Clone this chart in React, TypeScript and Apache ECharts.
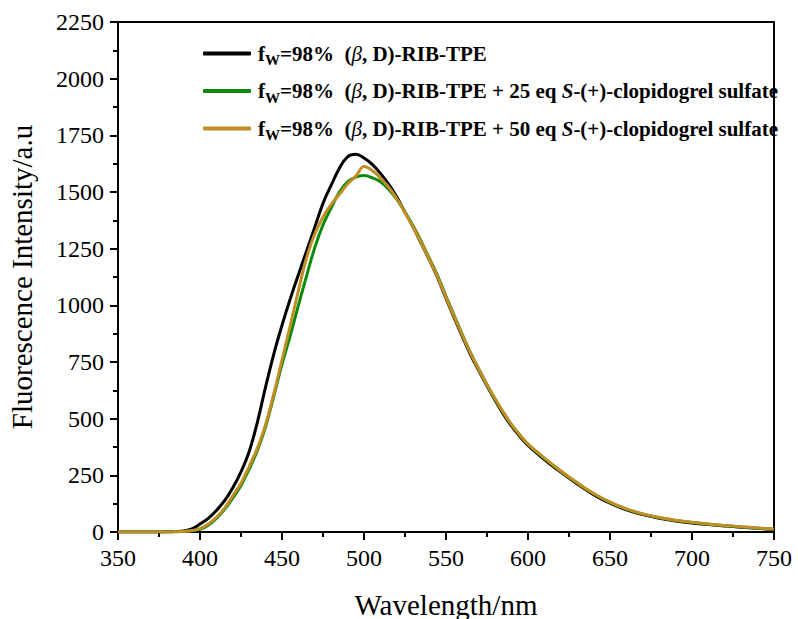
import React, { useEffect, useRef } from "react";
import * as echarts from "echarts";

const wavelengths = [
  350, 355, 360, 365, 370, 375, 380, 385, 390, 395, 400, 405, 410, 415, 420, 425, 430, 435, 440, 445,
  450, 455, 460, 465, 470, 475, 480, 485, 490, 495, 500, 505, 510, 515, 520, 525, 530, 535, 540, 545,
  550, 555, 560, 565, 570, 575, 580, 585, 590, 595, 600, 610, 620, 630, 640, 650, 660, 670, 680, 690,
  700, 710, 720, 730, 740, 750,
];

const blackValues = [
  0, 0, 0, 0, 0, 0, 1, 2, 5, 14, 35, 60, 95, 138, 195, 265, 355, 485, 640, 785,
  912, 1028, 1135, 1240, 1345, 1450, 1530, 1605, 1655, 1666, 1650, 1622, 1582, 1535, 1478, 1410, 1345, 1272, 1198, 1120,
  1030, 945, 862, 782, 712, 645, 580, 520, 467, 422, 382, 320, 264, 212, 165, 127, 98, 77, 61, 49,
  40, 33, 27, 21, 16, 11,
];

const greenValues = [
  0, 0, 0, 0, 0, 0, 0, 1, 2, 5, 12, 30, 60, 100, 150, 205, 278, 360, 465, 600,
  740, 865, 1000, 1130, 1255, 1355, 1430, 1500, 1545, 1566, 1573, 1563, 1545, 1512, 1467, 1412, 1350, 1280, 1205, 1128,
  1040, 955, 870, 790, 718, 650, 586, 527, 473, 428, 387, 325, 268, 216, 169, 131, 101, 79, 63, 51,
  42, 34, 28, 22, 17, 12,
];

const orangeValues = [
  0, 0, 0, 0, 0, 0, 0, 1, 3, 7, 15, 35, 65, 105, 160, 215, 290, 370, 475, 610,
  760, 910, 1065, 1210, 1315, 1390, 1445, 1490, 1535, 1570, 1612, 1595, 1562, 1522, 1470, 1410, 1345, 1275, 1200, 1122,
  1035, 950, 868, 788, 718, 650, 587, 528, 474, 429, 388, 326, 269, 217, 170, 132, 102, 80, 64, 52,
  43, 35, 29, 23, 18, 13,
];

const seriesNames = [
  "fW=98%  (β, D)-RIB-TPE",
  "fW=98%  (β, D)-RIB-TPE + 25 eq S-(+)-clopidogrel sulfate",
  "fW=98%  (β, D)-RIB-TPE + 50 eq S-(+)-clopidogrel sulfate",
];
const seriesColors = ["#000000", "#0a8a0a", "#c08e24"];
const legendRich = [
  "{bf|f}{sub|W}{b|=98%  (}{bi|β}{b|, D)-RIB-TPE}",
  "{bf|f}{sub|W}{b|=98%  (}{bi|β}{b|, D)-RIB-TPE + 25 eq }{si|S}{b|-(+)-clopidogrel sulfate}",
  "{bf|f}{sub|W}{b|=98%  (}{bi|β}{b|, D)-RIB-TPE + 50 eq }{si|S}{b|-(+)-clopidogrel sulfate}",
];

const xTicks = { min: 350, max: 750, interval: 50 };
const yTicks = { min: 0, max: 2250, interval: 250 };

const FONT = "Liberation Serif";
const LFS = 21;

export default function App() {
  const ref = useRef<HTMLDivElement>(null);
  useEffect(() => {
    if (!ref.current) return;
    const chart = echarts.init(ref.current, undefined, { renderer: "svg" });
    const valuesList = [blackValues, greenValues, orangeValues];
    const axisCommon = {
      axisLine: { show: true, onZero: false, lineStyle: { color: "#000", width: 2 } },
      axisTick: { show: true, inside: false, length: 8, lineStyle: { color: "#000", width: 2 } },
      minorTick: { show: true, splitNumber: 2, length: 5, lineStyle: { color: "#000", width: 2 } },
      splitLine: { show: false },
      minorSplitLine: { show: false },
    };
    chart.setOption({
      animation: false,
      backgroundColor: "#fff",
      grid: {
        left: 118,
        right: 24,
        top: 22,
        bottom: 87,
        show: true,
        borderColor: "#000",
        borderWidth: 2,
        backgroundColor: "transparent",
        containLabel: false,
        outerBoundsMode: "none",
      },
      legend: {
        orient: "vertical",
        left: 198,
        top: 38,
        itemWidth: 48,
        itemHeight: 4,
        itemGap: 13,
        icon: "roundRect",
        data: seriesNames.map((n, i) => ({ name: n, itemStyle: { color: seriesColors[i] } })),
        formatter: (name: string) => legendRich[seriesNames.indexOf(name)],
        textStyle: {
          fontFamily: FONT,
          color: "#000",
          rich: {
            b: { fontFamily: FONT, fontWeight: "bold", fontSize: LFS, color: "#000" },
            bf: { fontFamily: FONT, fontWeight: "bold", fontSize: LFS, color: "#000", padding: [0, 0, 0, 2] },
            sub: { fontFamily: FONT, fontWeight: "bold", fontSize: 15, color: "#000", padding: [13, 0, 0, 0] },
            bi: { fontFamily: FONT, fontStyle: "italic", fontWeight: "normal", fontSize: LFS, color: "#000" },
            si: { fontFamily: FONT, fontStyle: "italic", fontWeight: "bold", fontSize: LFS, color: "#000" },
          },
        },
      },
      xAxis: {
        type: "value",
        min: xTicks.min,
        max: xTicks.max,
        interval: xTicks.interval,
        name: "Wavelength/nm",
        nameLocation: "middle",
        nameGap: 58,
        nameTextStyle: { fontFamily: FONT, fontSize: 29, color: "#000" },
        axisLabel: { fontFamily: FONT, fontSize: 24, color: "#000", margin: 14 },
        ...axisCommon,
      },
      yAxis: {
        type: "value",
        min: yTicks.min,
        max: yTicks.max,
        interval: yTicks.interval,
        name: "Fluorescence Intensity/a.u",
        nameLocation: "middle",
        nameGap: 82,
        nameTextStyle: { fontFamily: FONT, fontSize: 29, color: "#000" },
        axisLabel: {
          fontFamily: FONT,
          fontSize: 24,
          color: "#000",
          margin: 14,
          formatter: (v: number) => String(v),
        },
        ...axisCommon,
      },
      series: seriesNames.map((name, i) => ({
        name,
        type: "line",
        data: wavelengths.map((w, j) => [w, valuesList[i][j]]),
        showSymbol: false,
        symbol: "none",
        smooth: 0.4,
        lineStyle: { color: seriesColors[i], width: 3 },
        itemStyle: { color: seriesColors[i] },
      })),
    });
    return () => chart.dispose();
  }, []);
  return (
    <div
      ref={ref}
      style={{ position: "fixed", left: 0, top: 0, width: 798, height: 619, background: "#fff" }}
    />
  );
}
